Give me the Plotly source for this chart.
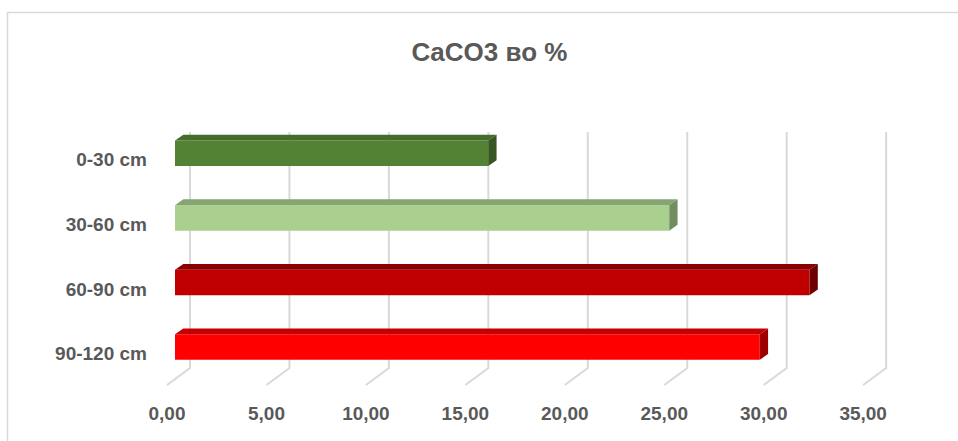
import plotly.graph_objects as go

# ---- data -------------------------------------------------------------
categories = ["0-30 cm", "30-60 cm", "60-90 cm", "90-120 cm"]
values = [15.75, 24.85, 31.90, 29.40]
x_ticks = [0, 5, 10, 15, 20, 25, 30, 35]
x_tick_labels = ["0,00", "5,00", "10,00", "15,00", "20,00", "25,00", "30,00", "35,00"]

# ---- colours (front face, top face, side face) --------------------------
front_colors = ["#548235", "#A9D08E", "#C00000", "#FF0000"]
top_colors = ["#446C2B", "#86A571", "#8B0000", "#C40000"]
side_colors = ["#375623", "#728E5F", "#6E0000", "#9E0000"]

TEXT = "#595959"
GRID = "#D9D9D9"
FONT = "Liberation Sans, Arial, sans-serif"

# ---- layout geometry (pixels) -------------------------------------------
W, H = 958, 441
M_L, M_R, M_T, M_B = 150, 28, 100, 41
PLOT_W = W - M_L - M_R
PLOT_H = H - M_T - M_B
X0_PX = 25.0        # plot left edge -> value 0 on the bars' front plane
UNIT_PX = 19.89     # pixels per 1 % on the value axis
ROW_PX = 64.6       # pixels between categories
ROW0_PX = 59.7      # plot top edge -> first category label
BAR_PX = 25.5       # front face thickness
BAR_SHIFT_PX = 6.4  # bars sit slightly above their labels
DEPTH_X, DEPTH_Y = 8.3, 5.8   # 3-D depth of each bar
WALL_X = 15.0       # back wall offset from the bars' front plane
FLOOR_X = -8        # front floor edge offset
WALL_TOP, WALL_BOTTOM, FLOOR_FRONT = 32.0, 268.0, 285.0  # y from plot top


def dx(px):
    return px / UNIT_PX


def ypos(px_from_top):
    return (px_from_top - ROW0_PX) / ROW_PX


def dy(px):
    return px / ROW_PX


x_range = [-X0_PX / UNIT_PX, (PLOT_W - X0_PX) / UNIT_PX]
y_range = [ypos(PLOT_H), ypos(0)]

fig = go.Figure()

# front faces of the bars
bar_w = dy(BAR_PX)
bar_offset = -bar_w / 2 - dy(BAR_SHIFT_PX)
rows = list(range(len(categories)))
fig.add_trace(go.Bar(
    x=values, y=rows, orientation="h",
    width=bar_w, offset=bar_offset,
    marker=dict(color=front_colors, line=dict(width=0)),
    hoverinfo="skip", showlegend=False,
))

# top and side faces give the bars their depth
ddx, ddy = dx(DEPTH_X), dy(DEPTH_Y)
for i, v in enumerate(values):
    yt = i + bar_offset
    yb = yt + bar_w
    fig.add_trace(go.Scatter(
        x=[0, v, v + ddx, ddx, 0], y=[yt, yt, yt - ddy, yt - ddy, yt],
        fill="toself", fillcolor=top_colors[i], mode="lines",
        line=dict(width=0, color=top_colors[i]),
        hoverinfo="skip", showlegend=False,
    ))
    fig.add_trace(go.Scatter(
        x=[v, v + ddx, v + ddx, v, v], y=[yt, yt - ddy, yb - ddy, yb, yt],
        fill="toself", fillcolor=side_colors[i], mode="lines",
        line=dict(width=0, color=side_colors[i]),
        hoverinfo="skip", showlegend=False,
    ))

# gridlines on the back wall, bending forward along the floor
shapes = []
for t in x_ticks:
    xw = t + dx(WALL_X)
    xf = t + dx(FLOOR_X)
    path = (f"M {xw},{ypos(WALL_TOP)} L {xw},{ypos(WALL_BOTTOM)} "
            f"L {xf},{ypos(FLOOR_FRONT)}")
    shapes.append(dict(type="path", path=path, xref="x", yref="y",
                       line=dict(color=GRID, width=2), layer="below"))

# chart area border
shapes.append(dict(
    type="rect", xref="paper", yref="paper",
    x0=(7.5 - M_L) / PLOT_W, x1=(965 - M_L) / PLOT_W,
    y0=(M_T + PLOT_H - 450) / PLOT_H, y1=(M_T + PLOT_H - 12.5) / PLOT_H,
    line=dict(color=GRID, width=1.5), fillcolor="rgba(0,0,0,0)", layer="below",
))

fig.update_layout(
    width=W, height=H,
    margin=dict(l=M_L, r=M_R, t=M_T, b=M_B, pad=0),
    paper_bgcolor="white", plot_bgcolor="white",
    title=dict(
        text="<b>CaCO3 во %</b>",
        x=489.5 / W, xref="container", xanchor="center",
        y=1 - 52 / H, yref="container", yanchor="middle",
        font=dict(family=FONT, size=26, color=TEXT),
    ),
    xaxis=dict(
        range=x_range, tickvals=x_ticks, ticktext=x_tick_labels,
        showgrid=False, zeroline=False, showline=False, ticks="",
        ticklabelshift=FLOOR_X,
        tickfont=dict(family=FONT, size=19, color=TEXT, weight="bold"),
    ),
    yaxis=dict(
        range=y_range, tickvals=rows, ticktext=categories,
        showgrid=False, zeroline=False, showline=False, ticks="",
        ticklabelstandoff=2,
        tickfont=dict(family=FONT, size=19, color=TEXT, weight="bold"),
    ),
    shapes=shapes,
)

fig.write_html("out.html")
